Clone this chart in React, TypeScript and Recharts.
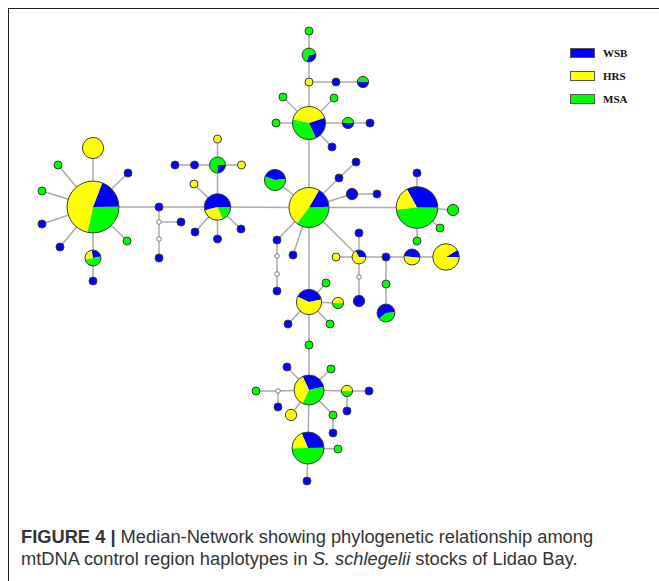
import { ScatterChart, Scatter, XAxis, YAxis, Legend } from 'recharts';

// population colours as drawn by Network
const BLUE = '#0000ff';
const YELLOW = '#ffff00';
const GREEN = '#00ff00';
const EDGE = '#ababab';
const OUTLINE = '#3c3c3c';
const UNIT_R = 4; // radius of a haplotype seen once

const legendLabels = ['WSB', 'HRS', 'MSA'];
const legendColors = [BLUE, YELLOW, GREEN];

// shared haplotypes: [id, x, y, WSB, HRS, MSA]
const sharedHaplotypes: [string, number, number, number, number, number][] = [
  ['A', 93, 207, 8, 22, 12],
  ['A_up', 93, 148, 0, 7, 0],
  ['A_dn', 93, 258, 1, 1, 2],
  ['B', 217.5, 207, 6, 3, 2],
  ['B_up', 217.5, 165, 1, 0, 3],
  ['C', 309, 207.5, 4, 12, 9],
  ['C_nw', 275, 180, 3, 0, 4],
  ['C_e2', 352, 194, 2, 0, 0],
  ['I', 309, 123, 4, 7, 6],
  ['I_top', 309, 55, 1, 0, 2],
  ['I_tr', 363, 82, 1, 0, 1],
  ['I_e', 348, 123, 1, 0, 1],
  ['D', 417, 207.5, 9, 5, 13],
  ['D_e', 453, 210, 0, 0, 2],
  ['E', 359, 257, 1, 2, 0],
  ['E_dn', 359, 301, 2, 0, 0],
  ['E_r2', 412, 257, 2, 2, 0],
  ['E_r3', 446, 257, 1, 10, 0],
  ['E_dd', 386, 313, 3, 0, 2],
  ['F', 309, 302, 4, 6, 0],
  ['F_e', 338, 303, 0, 1, 1],
  ['G', 309, 390, 4, 5, 5],
  ['G_sw', 291, 415, 0, 2, 0],
  ['G_e', 347, 391, 0, 1, 1],
  ['H', 308, 448, 5, 3, 8],
];

// wedge order WSB -> MSA -> HRS, clockwise from this angle (deg from 12 o'clock)
const pieStart: Record<string, number> = {
  A: 21, A_dn: 350, B: 255, B_up: 90, C: 30, C_nw: 290, I: 71, I_top: 80,
  I_tr: 90, I_e: 90, D: 331, E: 330, E_r2: 275, E_r3: 58, E_dd: 229,
  F: 295, F_e: 90, G: 335, G_e: 90, H: 337,
};

// singletons: [id, x, y]
const singleWSB: [string, number, number][] = [
  ['a3', 42, 224], ['a4', 60, 247], ['a5', 128, 173], ['a7', 93, 281], ['a8', 159, 207],
  ['a9', 159, 258], ['a10', 181, 222],
  ['b3', 194.5, 165], ['b4', 175, 165], ['b6', 195, 232], ['b7', 217.5, 239], ['b8', 241, 229],
  ['i3', 336, 82], ['i7', 370, 123], ['i8', 332, 147],
  ['c1', 339, 178], ['c2', 356, 162], ['c3', 377, 194], ['c4', 277, 240], ['c5', 277, 291], ['c6', 293, 255],
  ['d1', 417, 173], ['e1', 359, 233], ['e3', 386, 257],
  ['f2', 288, 324], ['g1', 287, 367], ['g4', 278, 407], ['g5', 369, 391], ['g6', 347, 411],
  ['g8', 333, 433], ['h2', 307, 481],
];
const singleHRS: [string, number, number][] = [
  ['b1', 217.5, 139], ['b2', 241.5, 165], ['b5', 194, 184], ['i2', 309, 82], ['e2', 336, 257],
];
const singleMSA: [string, number, number][] = [
  ['a1', 58, 165], ['a2', 42, 191], ['a6', 127, 241], ['i1', 309, 31], ['i4', 283, 97],
  ['i5', 334, 98], ['i6', 276, 123], ['d2', 440, 228], ['d3', 417, 241], ['e4', 386, 284],
  ['f1', 326, 283], ['f3', 330, 324], ['f4', 309, 345], ['g2', 331, 369], ['g3', 256, 391],
  ['g7', 333, 415], ['h1', 338, 449],
];
const medianVectors: [string, number, number][] = [
  ['m1', 159, 222], ['m2', 159, 239], ['m3', 277, 256], ['m4', 277, 274], ['m5', 359, 277], ['m6', 278, 391],
];

const links: [string, string][] = [
  ['A', 'A_up'], ['A', 'a1'], ['A', 'a2'], ['A', 'a3'], ['A', 'a4'], ['A', 'a5'], ['A', 'a6'],
  ['A', 'A_dn'], ['A_dn', 'a7'], ['A', 'a8'], ['a8', 'm1'], ['m1', 'm2'], ['m2', 'a9'], ['m1', 'a10'],
  ['a8', 'B'],
  ['B', 'B_up'], ['B_up', 'b1'], ['B_up', 'b2'], ['B_up', 'b3'], ['b3', 'b4'], ['B', 'b5'],
  ['B', 'b6'], ['B', 'b7'], ['B', 'b8'], ['B', 'C'],
  ['C', 'I'], ['I', 'i2'], ['i2', 'I_top'], ['I_top', 'i1'], ['i2', 'i3'], ['i3', 'I_tr'],
  ['I', 'i4'], ['I', 'i5'], ['I', 'i6'], ['I', 'I_e'], ['I_e', 'i7'], ['I', 'i8'],
  ['C', 'C_nw'], ['C', 'c1'], ['c1', 'c2'], ['C', 'C_e2'], ['C_e2', 'c3'], ['C', 'D'],
  ['C', 'c4'], ['c4', 'm3'], ['m3', 'm4'], ['m4', 'c5'], ['C', 'c6'], ['C', 'E'], ['C', 'F'],
  ['D', 'd1'], ['D', 'D_e'], ['D', 'd2'], ['D', 'd3'],
  ['E', 'e1'], ['E', 'e2'], ['E', 'e3'], ['E', 'm5'], ['m5', 'E_dn'], ['e3', 'E_r2'],
  ['E_r2', 'E_r3'], ['e3', 'e4'], ['e4', 'E_dd'],
  ['F', 'f1'], ['F', 'F_e'], ['F', 'f2'], ['F', 'f3'], ['F', 'f4'], ['f4', 'G'],
  ['G', 'g1'], ['G', 'g2'], ['G', 'm6'], ['m6', 'g3'], ['m6', 'g4'], ['G', 'G_sw'], ['G', 'G_e'],
  ['G_e', 'g5'], ['G_e', 'g6'], ['G', 'g7'], ['g7', 'g8'], ['G', 'H'],
  ['H', 'h1'], ['H', 'h2'],
];

type NodePoint = { id: string; x: number; y: number; wsb: number; hrs: number; msa: number; median?: boolean };

const nodes: NodePoint[] = [
  ...sharedHaplotypes.map(([id, x, y, wsb, hrs, msa]) => ({ id, x, y, wsb, hrs, msa })),
  ...singleWSB.map(([id, x, y]) => ({ id, x, y, wsb: 1, hrs: 0, msa: 0 })),
  ...singleHRS.map(([id, x, y]) => ({ id, x, y, wsb: 0, hrs: 1, msa: 0 })),
  ...singleMSA.map(([id, x, y]) => ({ id, x, y, wsb: 0, hrs: 0, msa: 1 })),
  ...medianVectors.map(([id, x, y]) => ({ id, x, y, wsb: 0, hrs: 0, msa: 0, median: true })),
];
const nodeById: Record<string, NodePoint> = {};
nodes.forEach((n) => { nodeById[n.id] = n; });

const polar = (cx: number, cy: number, r: number, deg: number) => {
  const a = (deg * Math.PI) / 180;
  return [cx + r * Math.sin(a), cy - r * Math.cos(a)];
};

const HaplotypeNode = (props: any) => {
  const { cx, cy, payload } = props;
  if (payload.median) {
    return <circle cx={cx} cy={cy} r={2.3} fill="#fff" stroke="#7a7a7a" strokeWidth={1} />;
  }
  const counts = [payload.wsb, payload.msa, payload.hrs];
  const colors = [BLUE, GREEN, YELLOW];
  const total = counts.reduce((s: number, c: number) => s + c, 0);
  const r = UNIT_R * Math.sqrt(total);
  const used = counts.filter((c: number) => c > 0).length;

  if (used === 1) {
    const fill = colors[counts.findIndex((c: number) => c > 0)];
    return <circle cx={cx} cy={cy} r={r} fill={fill} stroke={OUTLINE} strokeWidth={1} />;
  }

  let angle = pieStart[payload.id] ?? 0;
  const wedges = counts.map((c: number, i: number) => {
    if (!c) return null;
    const sweep = (360 * c) / total;
    const [x1, y1] = polar(cx, cy, r, angle);
    const [x2, y2] = polar(cx, cy, r, angle + sweep);
    const large = sweep > 180 ? 1 : 0;
    angle += sweep;
    return (
      <path
        key={i}
        d={`M${cx},${cy} L${x1},${y1} A${r},${r} 0 ${large} 1 ${x2},${y2} Z`}
        fill={colors[i]}
      />
    );
  });
  return (
    <g>
      {wedges}
      <circle cx={cx} cy={cy} r={r} fill="none" stroke={OUTLINE} strokeWidth={1} />
    </g>
  );
};

const NoMark = () => <g />;

const PopulationLegend = () => (
  <div style={{ fontFamily: '"Liberation Serif", "Times New Roman", serif', fontWeight: 700, fontSize: 11, color: '#111' }}>
    {legendLabels.map((label, i) => (
      <div key={label} style={{ display: 'flex', alignItems: 'center', height: 23 }}>
        <span
          style={{
            display: 'inline-block',
            width: 23,
            height: 8,
            background: legendColors[i],
            border: '1px solid #555',
            marginRight: 8,
          }}
        />
        {label}
      </div>
    ))}
  </div>
);

export default function App() {
  return (
    <div style={{ position: 'absolute', left: 0, top: 0, width: 659, height: 581, background: '#fff', overflow: 'hidden' }}>
      <div
        style={{
          position: 'absolute',
          left: 8,
          top: 8,
          width: 700,
          height: 700,
          borderTop: '1px solid #1e1e1e',
          borderLeft: '1px solid #1e1e1e',
        }}
      />
      <div style={{ position: 'absolute', left: 0, top: 0 }}>
        <ScatterChart width={659} height={581} margin={{ top: 0, right: 0, bottom: 0, left: 0 }}>
          <XAxis type="number" dataKey="x" domain={[0, 659]} hide />
          <YAxis type="number" dataKey="y" domain={[0, 581]} reversed hide />
          {links.map(([a, b]) => (
            <Scatter
              key={`${a}-${b}`}
              data={[nodeById[a], nodeById[b]]}
              line={{ stroke: EDGE, strokeWidth: 1.5 }}
              shape={NoMark}
              legendType="none"
              isAnimationActive={false}
            />
          ))}
          <Scatter data={nodes} shape={HaplotypeNode} legendType="none" isAnimationActive={false} />
          <Legend
            layout="vertical"
            align="center"
            verticalAlign="middle"
            content={() => <PopulationLegend />}
            wrapperStyle={{ left: 570, top: 41, width: 80 }}
          />
        </ScatterChart>
      </div>
      <div
        style={{
          position: 'absolute',
          left: 21,
          top: 526,
          width: 636,
          whiteSpace: 'nowrap',
          fontFamily: '"Liberation Sans", Arial, sans-serif',
          fontSize: 18.3,
          lineHeight: '22px',
          color: '#333',
        }}
      >
        <span style={{ fontWeight: 700 }}>FIGURE 4 |</span> Median-Network showing phylogenetic relationship among
        <br />
        mtDNA control region haplotypes in <i>S. schlegelii</i> stocks of Lidao Bay.
      </div>
    </div>
  );
}
